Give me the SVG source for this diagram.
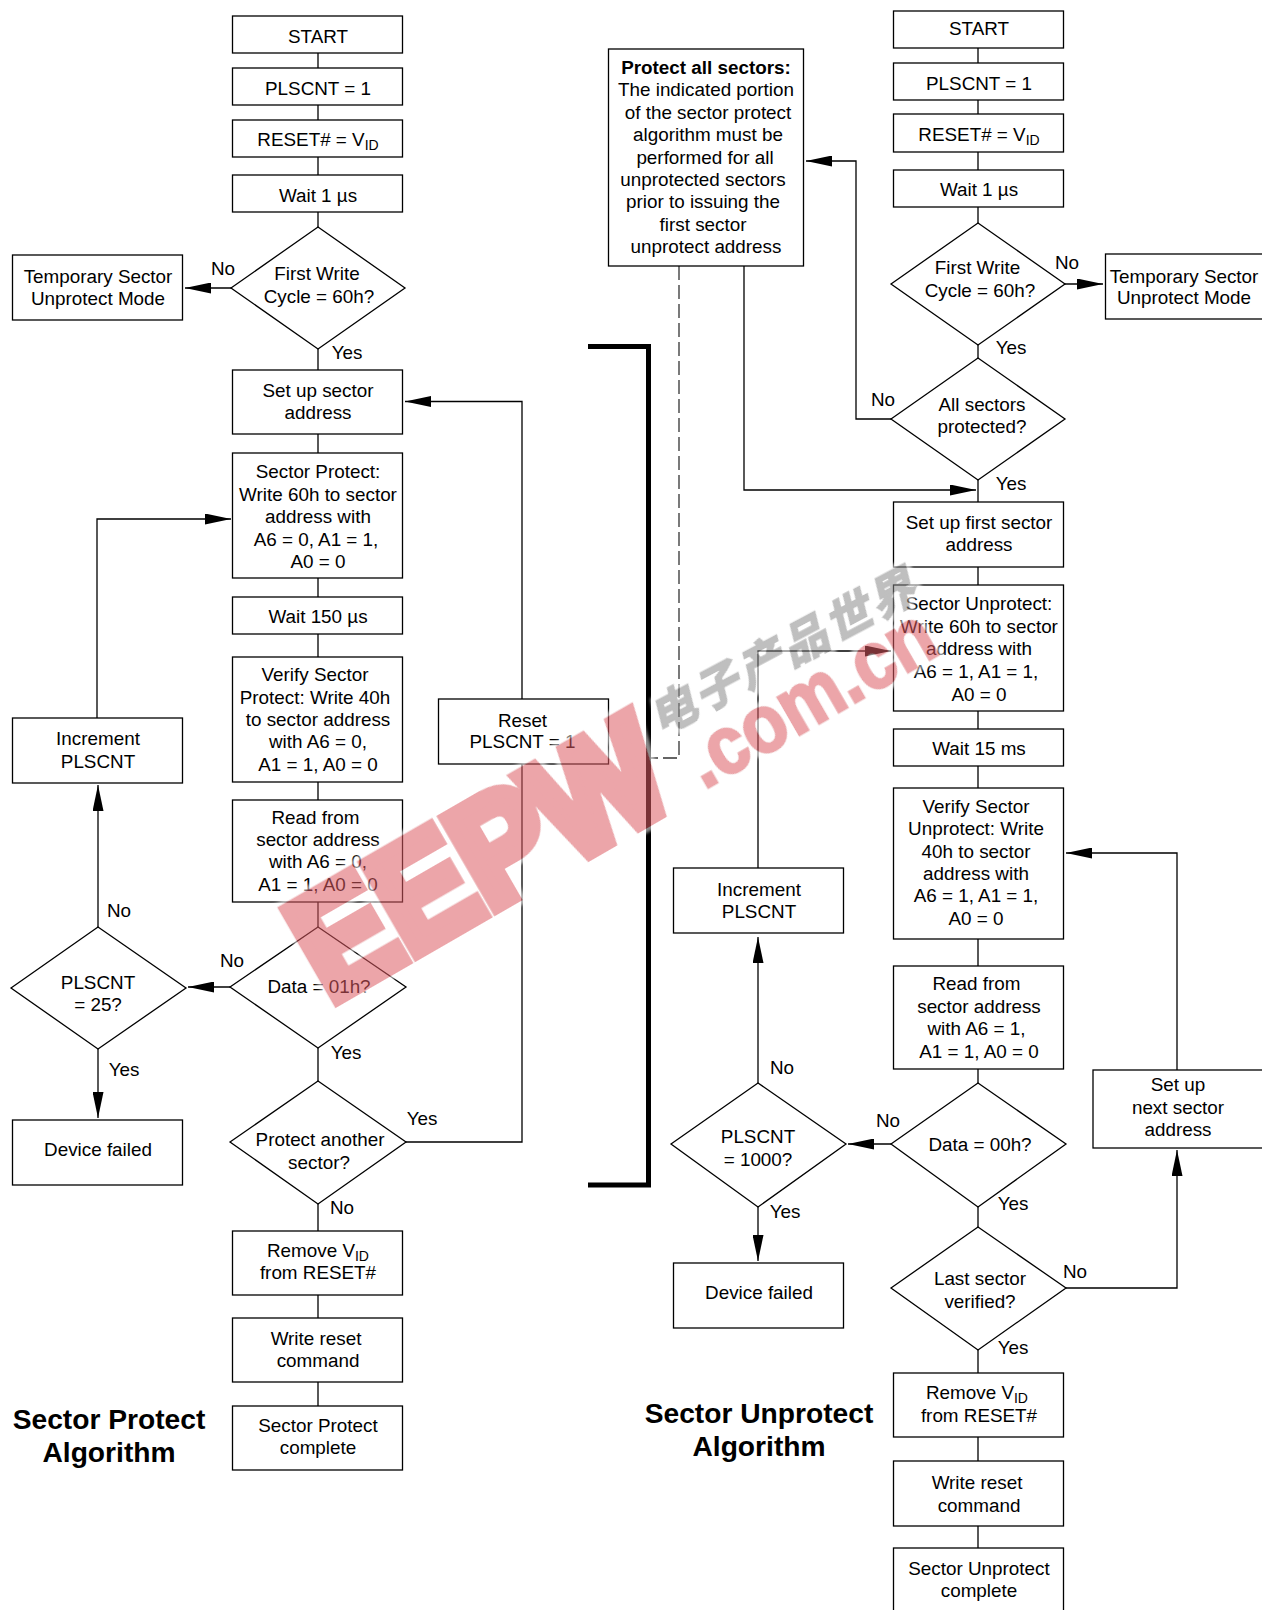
<svg xmlns="http://www.w3.org/2000/svg" width="1262" height="1610" viewBox="0 0 1262 1610">
<style>
text{font-family:"Liberation Sans",Arial,sans-serif;font-size:18.85px;fill:#000;text-anchor:middle}
.n rect,.n polygon{fill:#fff;stroke:#000;stroke-width:1.3}
.c{fill:none;stroke:#000;stroke-width:1.3}
.a{marker-end:url(#ah)}
.d{stroke-dasharray:14 5;stroke:#333}
.t{font-size:28.2px;font-weight:bold}
.s{font-size:14px}
.wm{font-weight:bold;fill:#dc5b64;stroke:#dc5b64;stroke-linejoin:miter;text-anchor:start}
.wc{font-family:"Noto Sans CJK SC",sans-serif;font-weight:bold;font-style:italic;fill:#8a8a8a;stroke:#8a8a8a;stroke-width:2px;text-anchor:start;font-size:46px}
</style>
<defs>
<marker id="ah" markerUnits="userSpaceOnUse" markerWidth="27" markerHeight="11" viewBox="0 0 26 11" refX="26" refY="5.5" orient="auto"><path d="M0 0L26 5.5L0 11Z" fill="#000"/></marker>
<filter id="halo" x="-10%" y="-40%" width="120%" height="180%">
<feMorphology in="SourceAlpha" operator="dilate" radius="4" result="m"/>
<feGaussianBlur in="m" stdDeviation="1.5" result="b"/>
<feFlood flood-color="#fff" result="f"/>
<feComposite in="f" in2="b" operator="in" result="h"/>
<feMerge><feMergeNode in="h"/><feMergeNode in="SourceGraphic"/></feMerge>
</filter>
</defs>
<rect width="1262" height="1610" fill="#fff"/>
<g id="connectors">
<path class="c" d="M318 53V68M318 105V120M318 157V175M318 212V227M318 349V370M318 434V453M318 578V597M318 634V657M318 782V800M318 902V927M318 1048V1081M318 1204V1231M318 1295V1318M318 1382V1406"/>
<path class="c a" d="M231 288H185"/>
<path class="c a" d="M405 1142H522V401.500H405"/>
<path class="c a" d="M97 718V519H231"/>
<path class="c a" d="M98 927V785"/>
<path class="c a" d="M230 987H188"/>
<path class="c a" d="M98 1049V1118"/>
<path class="c" d="M978 48V63M978 100V114M978 152V170M978 207V223M978 345V358M978 480V502M978 567V585M978 711V729M978 766V788M978 939V966M978 1069V1083M978 1207V1227M978 1350V1373M978 1437V1461M978 1526V1548"/>
<path class="c a" d="M1065 284H1103"/>
<path class="c a" d="M891 419H856V161H806"/>
<path class="c a" d="M744 266V490H976"/>
<path class="c d" d="M679 266V758H649"/>
<path class="c a" d="M758 868V651H891"/>
<path class="c a" d="M758 1083V937"/>
<path class="c a" d="M891 1144H848"/>
<path class="c a" d="M758 1207V1261"/>
<path class="c a" d="M1066 1288H1177V1150"/>
<path class="c a" d="M1177 1070V853H1066"/>
<path d="M588 346.500H648.500V1185H588" fill="none" stroke="#000" stroke-width="5"/>
</g>
<g id="left-start" class="n"><rect x="232.5" y="16" width="170" height="37"/><text x="318" y="43">START</text></g>
<g id="left-plscnt" class="n"><rect x="232.5" y="68" width="170" height="37"/><text x="318" y="95">PLSCNT = 1</text></g>
<g id="left-reset" class="n"><rect x="232.5" y="120" width="170" height="37"/><text x="318" y="146">RESET# = V<tspan class="s" dy="4">ID</tspan></text></g>
<g id="left-wait1" class="n"><rect x="232.5" y="175" width="170" height="37"/><text x="318" y="202">Wait 1 µs</text></g>
<g id="left-first" class="n"><polygon points="231,288 318,227 405,288 318,349"/><text x="317" y="280">First Write</text><text x="319" y="303">Cycle = 60h?</text></g>
<g id="left-temp" class="n"><rect x="12.5" y="255" width="170" height="65"/><text x="98" y="283">Temporary Sector</text><text x="98" y="305">Unprotect Mode</text></g>
<g id="left-setup" class="n"><rect x="232.5" y="370" width="170" height="64"/><text x="318" y="397">Set up sector</text><text x="318" y="419">address</text></g>
<g id="left-protect" class="n"><rect x="232.5" y="453" width="170" height="125"/><text x="318" y="478">Sector Protect:</text><text x="318" y="501">Write 60h to sector</text><text x="318" y="523">address with</text><text x="316" y="546">A6 = 0, A1 = 1,</text><text x="318" y="568">A0 = 0</text></g>
<g id="left-wait150" class="n"><rect x="232.5" y="597" width="170" height="37"/><text x="318" y="623">Wait 150 µs</text></g>
<g id="left-verify" class="n"><rect x="232.5" y="657" width="170" height="125"/><text x="315" y="681">Verify Sector</text><text x="315" y="704">Protect: Write 40h</text><text x="318" y="726">to sector address</text><text x="318" y="748">with A6 = 0,</text><text x="318" y="771">A1 = 1, A0 = 0</text></g>
<g id="left-read" class="n"><rect x="232.5" y="800" width="170" height="102"/><text x="315.500" y="824">Read from</text><text x="318" y="846">sector address</text><text x="318" y="868">with A6 = 0,</text><text x="318" y="891">A1 = 1, A0 = 0</text></g>
<g id="left-data" class="n"><polygon points="230,987 318,927 406,987 318,1048"/><text x="319" y="993">Data = 01h?</text></g>
<g id="left-count" class="n"><polygon points="11,988 98,927 186,988 98,1049"/><text x="98" y="989">PLSCNT</text><text x="98" y="1011">= 25?</text></g>
<g id="left-increment" class="n"><rect x="12.5" y="718" width="170" height="65"/><text x="98" y="745">Increment</text><text x="98" y="768">PLSCNT</text></g>
<g id="left-failed" class="n"><rect x="12.5" y="1120" width="170" height="65"/><text x="98" y="1156">Device failed</text></g>
<g id="left-resetbox" class="n"><rect x="438.500" y="699" width="170" height="65"/><text x="522.500" y="727">Reset</text><text x="522.500" y="748">PLSCNT = 1</text></g>
<g id="left-another" class="n"><polygon points="230,1142 318,1081 406,1142 318,1204"/><text x="320" y="1146">Protect another</text><text x="319" y="1169">sector?</text></g>
<g id="left-remove" class="n"><rect x="232.5" y="1231" width="170" height="64"/><text x="318" y="1257">Remove V<tspan class="s" dy="4">ID</tspan></text><text x="318" y="1279">from RESET#</text></g>
<g id="left-write" class="n"><rect x="232.5" y="1318" width="170" height="64"/><text x="316" y="1345">Write reset</text><text x="318" y="1367">command</text></g>
<g id="left-complete" class="n"><rect x="232.5" y="1406" width="170" height="64"/><text x="318" y="1432">Sector Protect</text><text x="318" y="1454">complete</text></g>
<g id="right-start" class="n"><rect x="893.5" y="11" width="170" height="37"/><text x="979" y="35">START</text></g>
<g id="right-plscnt" class="n"><rect x="893.5" y="63" width="170" height="37"/><text x="979" y="90">PLSCNT = 1</text></g>
<g id="right-reset" class="n"><rect x="893.5" y="114" width="170" height="38"/><text x="979" y="141">RESET# = V<tspan class="s" dy="4">ID</tspan></text></g>
<g id="right-wait1" class="n"><rect x="893.5" y="170" width="170" height="37"/><text x="979" y="196">Wait 1 µs</text></g>
<g id="right-first" class="n"><polygon points="891,284 978,223 1065,284 978,345"/><text x="977.500" y="274">First Write</text><text x="980" y="297">Cycle = 60h?</text></g>
<g id="right-temp" class="n"><rect x="1105.500" y="254" width="158" height="65"/><text x="1184" y="283">Temporary Sector</text><text x="1184" y="304">Unprotect Mode</text></g>
<g id="right-all" class="n"><polygon points="891,419 978,358 1065,419 978,480"/><text x="982" y="411">All sectors</text><text x="982" y="433">protected?</text></g>
<g id="right-note" class="n"><rect x="608.500" y="49" width="195" height="217"/><text x="706" y="74" font-weight="bold">Protect all sectors:</text><text x="706" y="96">The indicated portion</text><text x="708" y="119">of the sector protect</text><text x="708" y="141">algorithm must be</text><text x="705" y="164">performed for all</text><text x="703" y="186">unprotected sectors</text><text x="703" y="208">prior to issuing the</text><text x="703" y="231">first sector</text><text x="706" y="253">unprotect address</text></g>
<g id="right-setup" class="n"><rect x="893.5" y="502" width="170" height="65"/><text x="979" y="529">Set up first sector</text><text x="979" y="551">address</text></g>
<g id="right-unprotect" class="n"><rect x="893.5" y="585" width="170" height="126"/><text x="979" y="610">Sector Unprotect:</text><text x="979" y="633">Write 60h to sector</text><text x="979" y="655">address with</text><text x="976" y="678">A6 = 1, A1 = 1,</text><text x="979" y="701">A0 = 0</text></g>
<g id="right-wait15" class="n"><rect x="893.5" y="729" width="170" height="37"/><text x="979" y="755">Wait 15 ms</text></g>
<g id="right-verify" class="n"><rect x="893.5" y="788" width="170" height="151"/><text x="976" y="813">Verify Sector</text><text x="976" y="835">Unprotect: Write</text><text x="976" y="858">40h to sector</text><text x="976" y="880">address with</text><text x="976" y="902">A6 = 1, A1 = 1,</text><text x="976" y="925">A0 = 0</text></g>
<g id="right-read" class="n"><rect x="893.5" y="966" width="170" height="103"/><text x="976.500" y="990">Read from</text><text x="979" y="1013">sector address</text><text x="976.500" y="1035">with A6 = 1,</text><text x="979" y="1058">A1 = 1, A0 = 0</text></g>
<g id="right-data" class="n"><polygon points="891,1144 978,1083 1066,1144 978,1207"/><text x="980" y="1151">Data = 00h?</text></g>
<g id="right-count" class="n"><polygon points="671,1144 758,1083 846,1144 758,1207"/><text x="758" y="1143">PLSCNT</text><text x="758" y="1166">= 1000?</text></g>
<g id="right-increment" class="n"><rect x="673.500" y="868" width="170" height="65"/><text x="759" y="896">Increment</text><text x="759" y="918">PLSCNT</text></g>
<g id="right-failed" class="n"><rect x="673.500" y="1263" width="170" height="65"/><text x="759" y="1299">Device failed</text></g>
<g id="right-last" class="n"><polygon points="891,1288 978,1227 1066,1288 978,1350"/><text x="980" y="1285">Last sector</text><text x="980" y="1308">verified?</text></g>
<g id="right-next" class="n"><rect x="1093" y="1070" width="170" height="78"/><text x="1178" y="1091">Set up</text><text x="1178" y="1114">next sector</text><text x="1178" y="1136">address</text></g>
<g id="right-remove" class="n"><rect x="893.5" y="1373" width="170" height="64"/><text x="977" y="1399">Remove V<tspan class="s" dy="4">ID</tspan></text><text x="979" y="1422">from RESET#</text></g>
<g id="right-write" class="n"><rect x="893.5" y="1461" width="170" height="65"/><text x="977" y="1489">Write reset</text><text x="979" y="1512">command</text></g>
<g id="right-complete" class="n"><rect x="893.5" y="1548" width="170" height="64"/><text x="979" y="1575">Sector Unprotect</text><text x="979" y="1597">complete</text></g>
<g id="labels">
<text x="223" y="275">No</text><text x="347" y="359">Yes</text><text x="232" y="967">No</text><text x="119" y="917">No</text><text x="346" y="1059">Yes</text><text x="124" y="1076">Yes</text><text x="422" y="1125">Yes</text><text x="342" y="1214">No</text>
<text x="1067" y="269">No</text><text x="1011" y="354">Yes</text><text x="883" y="406">No</text><text x="1011" y="490">Yes</text><text x="888" y="1127">No</text><text x="782" y="1074">No</text><text x="1013" y="1210">Yes</text><text x="785" y="1218">Yes</text><text x="1075" y="1278">No</text><text x="1013" y="1354">Yes</text>
</g>
<g id="titles">
<text class="t" x="109" y="1429">Sector Protect</text><text class="t" x="109" y="1462">Algorithm</text>
<text class="t" x="759" y="1423">Sector Unprotect</text><text class="t" x="759" y="1456">Algorithm</text>
</g>
<g id="watermark" opacity=".55">
<text class="wm" filter="url(#halo)" transform="translate(329.500 1003.500) rotate(-30)" x="0" y="0" style="font-size:148px;stroke-width:14px" textLength="405" lengthAdjust="spacingAndGlyphs">EEPW</text>
<text class="wm" filter="url(#halo)" transform="translate(704 790) rotate(-30)" x="0" y="0" style="font-size:82px;stroke-width:3px" textLength="275" lengthAdjust="spacingAndGlyphs">.com.cn</text>
<text class="wc" filter="url(#halo)" transform="translate(660 736) rotate(-28)" x="0" y="0" textLength="294">电子产品世界</text>
</g>
</svg>
